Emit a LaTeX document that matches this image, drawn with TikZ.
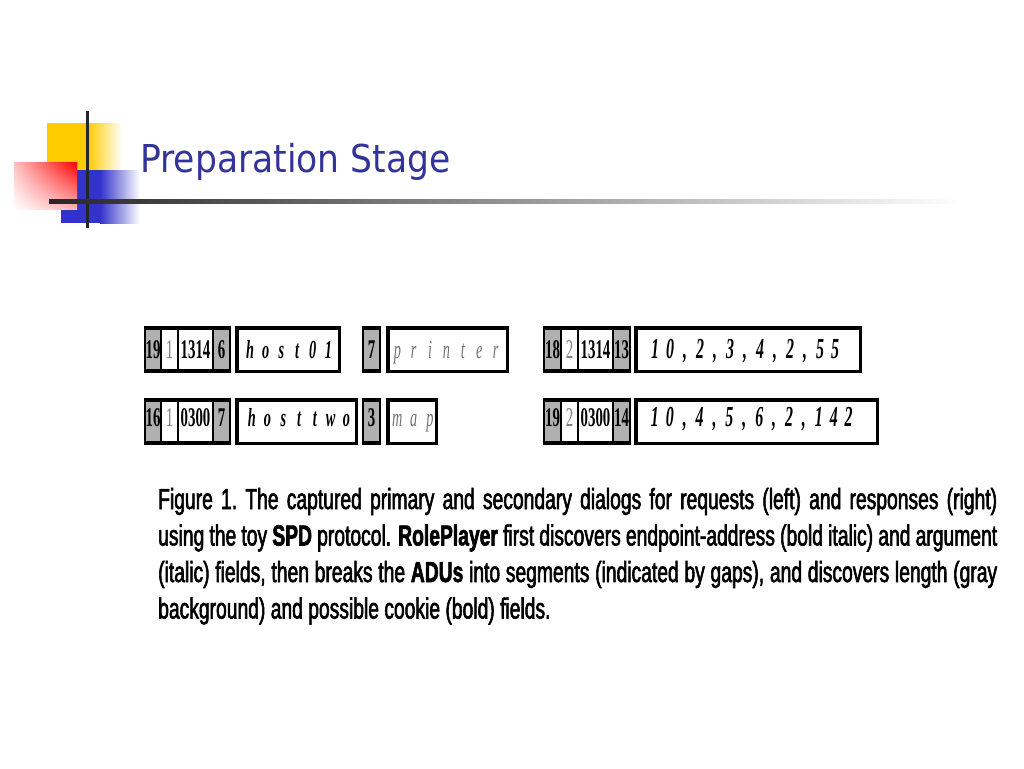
\documentclass[tikz,border=0pt]{standalone}
\usepackage{fontspec}
\usepackage{xcolor}
\usepackage{tikz}
\usetikzlibrary{positioning}
\usetikzlibrary{shadings}
\newfontfamily\titlefont[FakeStretch=0.9]{DejaVu Sans}
\newfontfamily\capfont[FakeStretch=0.665, FakeBold=2]{Liberation Sans}
\newfontfamily\adufont[FakeStretch=0.55]{Liberation Serif}
\definecolor{lengray}{RGB}{176,176,176}
\definecolor{titleblue}{RGB}{51,51,153}
\definecolor{logoyellow}{RGB}{255,204,0}
\definecolor{logoblue}{RGB}{51,51,204}
% one letter per fixed-width slot
\newcommand\spreadout[2][16pt]{\def\sppitch{#1}\spreadnext#2\relax}
\def\spreadnext#1{\ifx\relax#1\else\makebox[\sppitch]{#1}\expandafter\spreadnext\fi}
\tikzset{
  fld/.style = {draw, line width=2pt, inner sep=0, outer sep=0, minimum height=45pt, text height=18pt, font=\adufont\fontsize{27}{27}\selectfont},
  lenfld/.style = {fld, fill=lengray, font=\adufont\bfseries\fontsize{27}{27}\selectfont},
  ckfld/.style = {fld, font=\adufont\bfseries\fontsize{27}{27}\selectfont},
  adubox/.style = {draw, line width=3.5pt, inner sep=0, outer sep=0, minimum height=43.5pt, anchor=west},
  fldtext/.style = {inner sep=0, outer sep=0, text height=18pt},
  addrfont/.style = {font=\adufont\bfseries\itshape\fontsize{26}{26}\selectfont},
  argfont/.style = {font=\adufont\itshape\fontsize{26}{26}\selectfont, text=black!55},
  valfont/.style = {font=\adufont\bfseries\itshape\fontsize{29}{29}\selectfont},
  rim/.style = {line width=4pt},
  capline/.style = {anchor=base west, inner sep=0, font=\capfont\fontsize{29}{32}\selectfont}
}

\begin{document}
\begin{tikzpicture}[x=1pt, y=-1pt]
\fill[white] (0,0) rectangle (1024,768);
\useasboundingbox (0,0) rectangle (1024,768);

% logo
\fill[logoyellow] (47,123) rectangle (88,172);
\shade[left color=logoyellow, right color=white] (88,123) rectangle (122,172);
\fill[logoblue] (61,170) rectangle (100,223);
\shade[left color=logoblue, right color=white] (100,170) rectangle (140,223);
\shade[upper left=red!25!white, upper right=red, lower left=white, lower right=red!30!white] (14,162) rectangle (77,209);
\draw[line width=3pt, black!85] (87,111) -- (87,228);
\shade[left color=black!85, right color=white] (49,199) rectangle (960,203);

\node[anchor=base west, inner sep=0, text=titleblue, font=\titlefont\fontsize{38.4}{40}\selectfont] (title) at (140,172) {Preparation Stage};

% primary dialog
\begin{scope}[every node/.append style={text depth=0pt}]
\node[lenfld, minimum width=16pt, anchor=west] (rq1len) at (145,349.5) {19};
\node[fld, minimum width=17pt, right=0pt of rq1len, text=gray] (rq1dir) {1};
\node[ckfld, minimum width=35pt, right=0pt of rq1dir] (rq1ck) {1314};
\node[lenfld, minimum width=17pt, right=0pt of rq1ck] (rq1hl) {6};
\node[adubox, minimum width=102.5pt] (rq1host) at (236.75,349.5) {};
\node[fldtext, addrfont, right=5.4pt of rq1host.west] (rq1hosttxt) {\spreadout[15.7pt]{host01}};
\node[lenfld, minimum width=17pt, anchor=west] (rq1al) at (363,349.5) {7};
\node[adubox, minimum width=119.5pt] (rq1arg) at (387.75,349.5) {};
\node[fldtext, argfont, right=1.4pt of rq1arg.west] (rq1argtxt) {\spreadout[16.4pt]{printer}};

\node[lenfld, minimum width=17pt, anchor=west] (rs1len) at (544,349.5) {18};
\node[fld, minimum width=17pt, right=0pt of rs1len, text=gray] (rs1dir) {2};
\node[ckfld, minimum width=35pt, right=0pt of rs1dir] (rs1ck) {1314};
\node[lenfld, minimum width=17pt, right=0pt of rs1ck] (rs1vl) {13};
\node[adubox, minimum width=224.5pt] (rs1val) at (635.75,349.5) {};
\node[fldtext, valfont, right=11.75pt of rs1val.west] (rs1valtxt) {\spreadout[15pt]{10,2,3,4,2,55}};
\end{scope}

% secondary dialog
\begin{scope}[every node/.append style={text depth=9pt}]
\node[lenfld, minimum width=16pt, anchor=west] (rq2len) at (145,421.5) {16};
\node[fld, minimum width=17pt, right=0pt of rq2len, text=gray] (rq2dir) {1};
\node[ckfld, minimum width=35pt, right=0pt of rq2dir] (rq2ck) {0300};
\node[lenfld, minimum width=17pt, right=0pt of rq2ck] (rq2hl) {7};
\node[adubox, minimum width=119.5pt] (rq2host) at (236.75,421.5) {};
\node[fldtext, addrfont, right=7.1pt of rq2host.west] (rq2hosttxt) {\spreadout[15.8pt]{hosttwo}};
\node[lenfld, minimum width=17pt, anchor=west] (rq2al) at (363,421.5) {3};
\node[adubox, minimum width=48.5pt] (rq2arg) at (387.75,421.5) {};
\node[fldtext, argfont, right=1.4pt of rq2arg.west] (rq2argtxt) {\spreadout[16.3pt]{map}};

\node[lenfld, minimum width=17pt, anchor=west] (rs2len) at (544,421.5) {19};
\node[fld, minimum width=17pt, right=0pt of rs2len, text=gray] (rs2dir) {2};
\node[ckfld, minimum width=35pt, right=0pt of rs2dir] (rs2ck) {0300};
\node[lenfld, minimum width=17pt, right=0pt of rs2ck] (rs2vl) {14};
\node[adubox, minimum width=241.5pt] (rs2val) at (635.75,421.5) {};
\node[fldtext, valfont, right=11.75pt of rs2val.west] (rs2valtxt) {\spreadout[14.9pt]{10,4,5,6,2,142}};
\end{scope}

% heavy top and bottom rules of each segment
\foreach \x/\y in {rq1len/rq1hl, rq1al/rq1al, rs1len/rs1vl, rq2len/rq2hl, rq2al/rq2al, rs2len/rs2vl}
  \draw[rim] ([yshift=-1pt]\x.north west) -- ([yshift=-1pt]\y.north east)
             ([yshift=1pt]\x.south west) -- ([yshift=1pt]\y.south east);

\node[capline] (cap1) at (158,509) {\makebox[839pt][s]{Figure 1.\ The captured primary and secondary dialogs for requests (left) and responses (right)}};
\node[capline] (cap2) at (158,545.5) {\makebox[839pt][s]{using the toy \textbf{SPD} protocol. \textbf{RolePlayer} first discovers endpoint-address (bold italic) and argument}};
\node[capline] (cap3) at (158,582) {\makebox[839pt][s]{(italic) fields, then breaks the \textbf{ADUs} into segments (indicated by gaps), and discovers length (gray}};
\node[capline] (cap4) at (158,618.5) {background) and possible cookie (bold) fields.};
\end{tikzpicture}
\end{document}
